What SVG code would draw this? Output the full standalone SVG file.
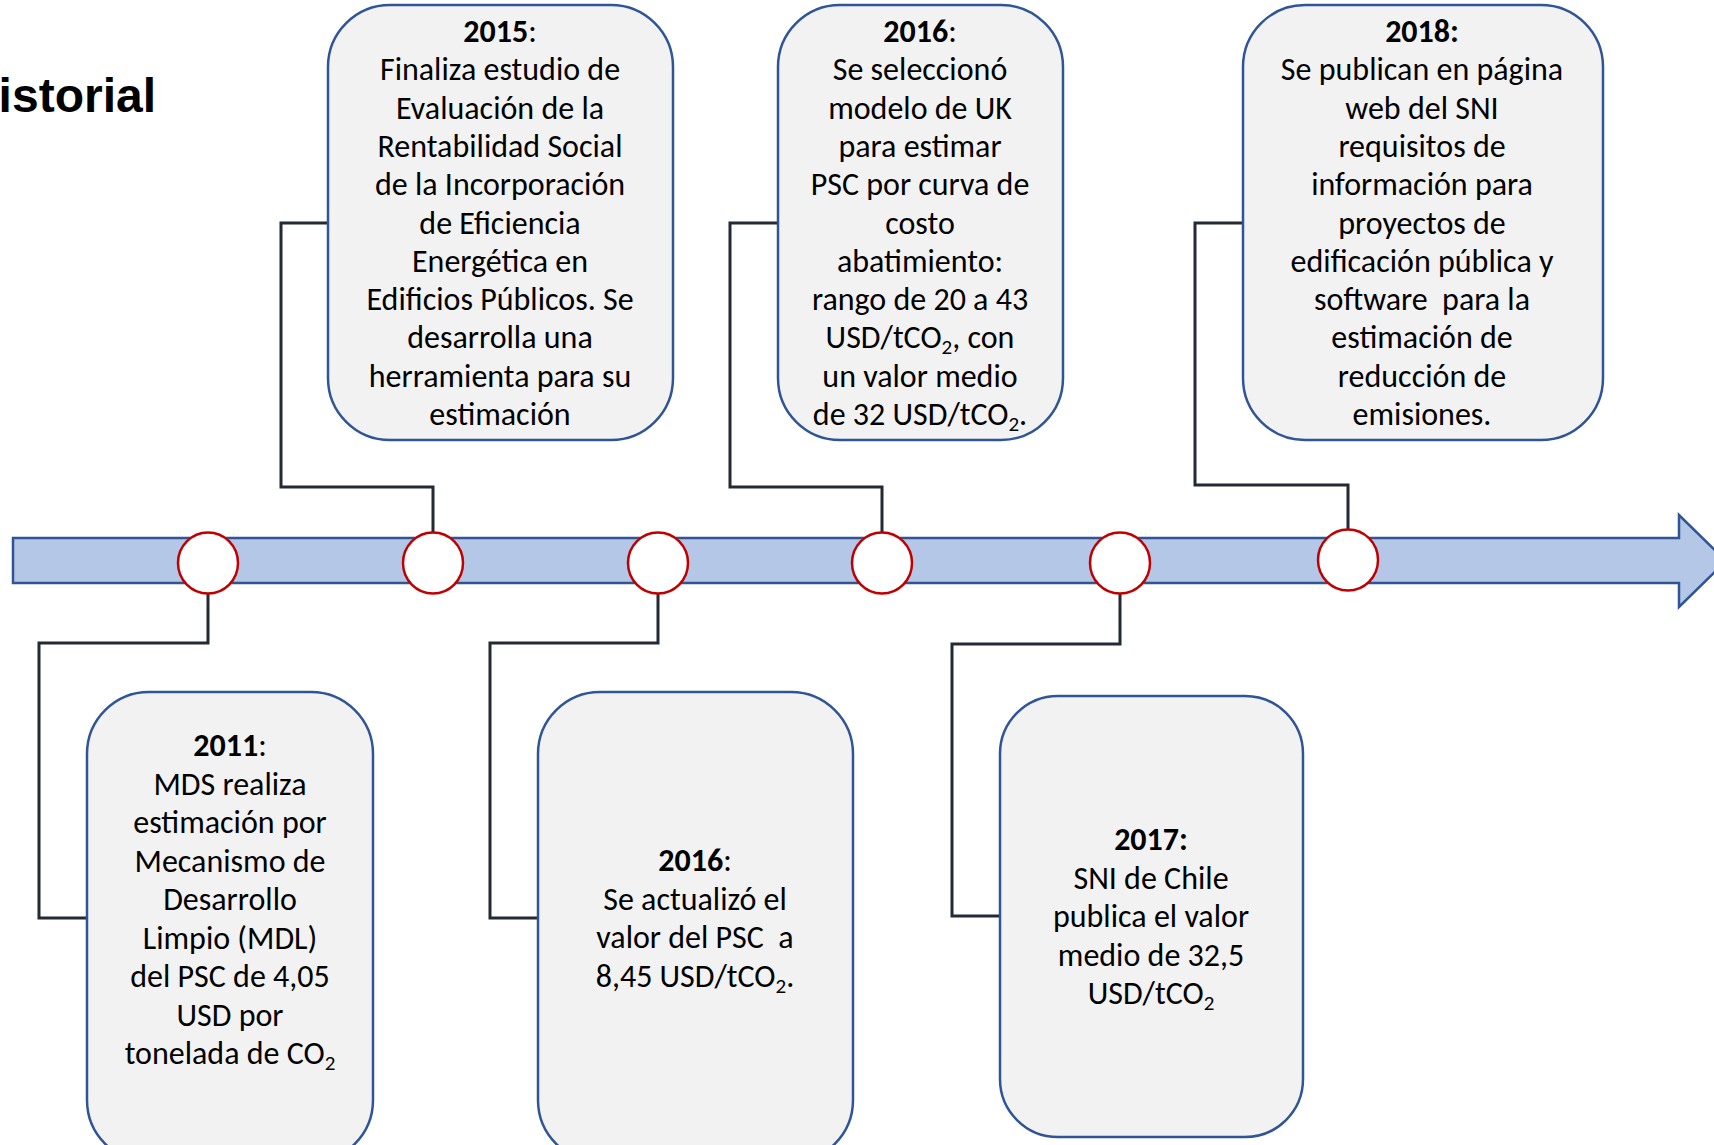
<svg xmlns="http://www.w3.org/2000/svg" width="1714" height="1145" viewBox="0 0 1714 1145">
<style>
.box{fill:#F2F2F2;stroke:#2F5597;stroke-width:2.5}
.dot{fill:#FFFFFF;stroke:#C00000;stroke-width:2.5}
.con{fill:none;stroke:#222A35;stroke-width:3}
.t{font-family:Carlito,Calibri,Lato,"Open Sans",sans-serif;font-size:32px;fill:#000;text-anchor:middle}
.b{font-weight:bold}
.s{font-size:21px}
.title{font-family:"Liberation Sans",Arial,sans-serif;font-weight:bold;font-size:48px;fill:#000;text-anchor:end}
</style>
<rect width="1714" height="1145" fill="#FFFFFF"/>
<text class="title" x="156" y="112">istorial</text>

<g id="timeline">
<path d="M13,538 H1679 V515 L1726,561 L1679,607 V583 H13 Z" fill="#B4C7E7" stroke="#2F5597" stroke-width="2.5"/>
</g>

<g id="connectors">
<polyline class="con" points="328,223 281,223 281,487 433,487 433,533"/>
<polyline class="con" points="778,223 730,223 730,487 882,487 882,533"/>
<polyline class="con" points="1243,223 1195,223 1195,485 1348,485 1348,530"/>
<polyline class="con" points="208,594 208,643 39,643 39,918 87,918"/>
<polyline class="con" points="658,594 658,643 490,643 490,918 538,918"/>
<polyline class="con" points="1120,594 1120,644 952,644 952,916 1000,916"/>
</g>

<g id="markers">
<ellipse class="dot" cx="208" cy="563" rx="30" ry="30.5"/>
<ellipse class="dot" cx="433" cy="563" rx="30" ry="30.5"/>
<ellipse class="dot" cx="658" cy="563" rx="30" ry="30.5"/>
<ellipse class="dot" cx="882" cy="563" rx="30" ry="30.5"/>
<ellipse class="dot" cx="1120" cy="563" rx="30" ry="30.5"/>
<ellipse class="dot" cx="1348" cy="560" rx="30" ry="30.5"/>
</g>

<g id="n2015">
<rect class="box" x="328" y="5" width="345" height="435" rx="62" ry="62"/>
<text class="t" x="500" y="42"><tspan class="b">2015</tspan>:</text>
<text class="t" x="500" y="80.3">Finaliza estudio de</text>
<text class="t" x="500" y="118.6">Evaluación de la</text>
<text class="t" x="500" y="156.9">Rentabilidad Social</text>
<text class="t" x="500" y="195.2">de la Incorporación</text>
<text class="t" x="500" y="233.5">de Eficiencia</text>
<text class="t" x="500" y="271.8">Energética en</text>
<text class="t" x="500" y="310.1">Edificios Públicos. Se</text>
<text class="t" x="500" y="348.4">desarrolla una</text>
<text class="t" x="500" y="386.7">herramienta para su</text>
<text class="t" x="500" y="425">estimación</text>
</g>

<g id="n2016a">
<rect class="box" x="778" y="5" width="285" height="435" rx="62" ry="62"/>
<text class="t" x="920" y="42"><tspan class="b">2016</tspan>:</text>
<text class="t" x="920" y="80.3">Se seleccionó</text>
<text class="t" x="920" y="118.6">modelo de UK</text>
<text class="t" x="920" y="156.9">para estimar</text>
<text class="t" x="920" y="195.2">PSC por curva de</text>
<text class="t" x="920" y="233.5">costo</text>
<text class="t" x="920" y="271.8">abatimiento:</text>
<text class="t" x="920" y="310.1">rango de 20 a 43</text>
<text class="t" x="920" y="348.4">USD/tCO<tspan class="s" dy="6">2</tspan><tspan dy="-6">, con</tspan></text>
<text class="t" x="920" y="386.7">un valor medio</text>
<text class="t" x="920" y="425">de 32 USD/tCO<tspan class="s" dy="6">2</tspan><tspan dy="-6">.</tspan></text>
</g>

<g id="n2018">
<rect class="box" x="1243" y="5" width="360" height="435" rx="62" ry="62"/>
<text class="t" x="1422" y="42"><tspan class="b">2018:</tspan></text>
<text class="t" x="1422" y="80.3">Se publican en página</text>
<text class="t" x="1422" y="118.6">web del SNI</text>
<text class="t" x="1422" y="156.9">requisitos de</text>
<text class="t" x="1422" y="195.2">información para</text>
<text class="t" x="1422" y="233.5">proyectos de</text>
<text class="t" x="1422" y="271.8">edificación pública y</text>
<text class="t" x="1422" y="310.1" xml:space="preserve">software  para la</text>
<text class="t" x="1422" y="348.4">estimación de</text>
<text class="t" x="1422" y="386.7">reducción de</text>
<text class="t" x="1422" y="425">emisiones.</text>
</g>

<g id="n2011">
<rect class="box" x="87" y="692" width="286" height="470" rx="62" ry="62"/>
<text class="t" x="230" y="756"><tspan class="b">2011</tspan>:</text>
<text class="t" x="230" y="794.5">MDS realiza</text>
<text class="t" x="230" y="833">estimación por</text>
<text class="t" x="230" y="871.5">Mecanismo de</text>
<text class="t" x="230" y="910">Desarrollo</text>
<text class="t" x="230" y="948.5">Limpio (MDL)</text>
<text class="t" x="230" y="987">del PSC de 4,05</text>
<text class="t" x="230" y="1025.5">USD por</text>
<text class="t" x="230" y="1064">tonelada de CO<tspan class="s" dy="6">2</tspan></text>
</g>

<g id="n2016b">
<rect class="box" x="538" y="692" width="315" height="470" rx="62" ry="62"/>
<text class="t" x="695" y="871"><tspan class="b">2016</tspan>:</text>
<text class="t" x="695" y="909.5">Se actualizó el</text>
<text class="t" x="695" y="948" xml:space="preserve">valor del PSC  a</text>
<text class="t" x="695" y="986.5">8,45 USD/tCO<tspan class="s" dy="6">2</tspan><tspan dy="-6">.</tspan></text>
</g>

<g id="n2017">
<rect class="box" x="1000" y="696" width="303" height="441" rx="58" ry="58"/>
<text class="t" x="1151" y="850"><tspan class="b">2017:</tspan></text>
<text class="t" x="1151" y="888.5">SNI de Chile</text>
<text class="t" x="1151" y="927">publica el valor</text>
<text class="t" x="1151" y="965.5">medio de 32,5</text>
<text class="t" x="1151" y="1004">USD/tCO<tspan class="s" dy="6">2</tspan></text>
</g>
</svg>
